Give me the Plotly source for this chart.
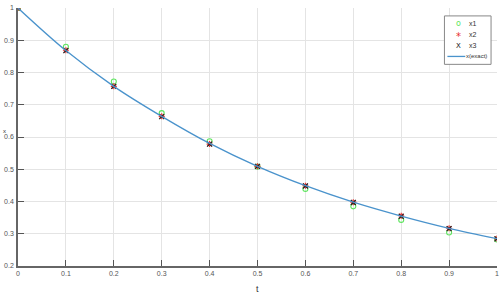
import plotly.graph_objects as go

t = [0, 0.1, 0.2, 0.3, 0.4, 0.5, 0.6, 0.7, 0.8, 0.9, 1.0]
x1 = [1.0, 0.880, 0.772, 0.674, 0.587, 0.508, 0.439, 0.385, 0.343, 0.304, 0.282]
x2 = [1.0, 0.869, 0.757, 0.664, 0.578, 0.509, 0.449, 0.398, 0.356, 0.317, 0.285]
x3 = [1.0, 0.868, 0.757, 0.663, 0.578, 0.509, 0.448, 0.397, 0.354, 0.316, 0.284]
x_exact = [1.0, 0.868, 0.757, 0.664, 0.580, 0.509, 0.449, 0.398, 0.355, 0.317, 0.285]

series_names = ["x1", "x2", "x3", "x(exact)"]
series_colors = ["#5ee65e", "#e83030", "#222222", "#4a93cc"]

xticks = [0, 0.1, 0.2, 0.3, 0.4, 0.5, 0.6, 0.7, 0.8, 0.9, 1]
xtick_labels = ["0", "0.1", "0.2", "0.3", "0.4", "0.5", "0.6", "0.7", "0.8", "0.9", "1"]
yticks = [0.2, 0.3, 0.4, 0.5, 0.6, 0.7, 0.8, 0.9, 1]
ytick_labels = ["0.2", "0.3", "0.4", "0.5", "0.6", "0.7", "0.8", "0.9", "1"]

FONT = "Liberation Sans Narrow, Arial Narrow, Liberation Sans, sans-serif"

W, H = 503, 294
ML, MR, MT, MB = 16, 4, 5, 28
PW, PH = W - ML - MR, H - MT - MB


def px(xp):
    return (xp - ML) / PW


def py(yp):
    return (H - MB - yp) / PH


fig = go.Figure()
fig.add_trace(go.Scatter(x=t, y=x1, mode="markers", name=series_names[0],
                         marker=dict(symbol="circle-open", size=5, color=series_colors[0],
                                     line=dict(width=1.1, color=series_colors[0]))))
fig.add_trace(go.Scatter(x=t, y=x2, mode="markers", name=series_names[1],
                         marker=dict(symbol="asterisk-open", size=5, color=series_colors[1],
                                     line=dict(width=1.1, color=series_colors[1]))))
fig.add_trace(go.Scatter(x=t, y=x3, mode="markers", name=series_names[2],
                         marker=dict(symbol="x-thin-open", size=5, color=series_colors[2],
                                     line=dict(width=1.2, color=series_colors[2]))))
fig.add_trace(go.Scatter(x=t, y=x_exact, mode="lines", name=series_names[3],
                         line=dict(color=series_colors[3], width=1.3, shape="spline")))

axis_common = dict(
    showgrid=True, gridcolor="#e4e4e4", gridwidth=1,
    showline=True, linecolor="#666666", linewidth=1.5,
    ticks="inside", ticklen=6, tickcolor="#555555", tickwidth=1,
    tickfont=dict(family=FONT, size=7, color="#555555"),
    zeroline=False, mirror=False,
)

fig.update_xaxes(range=[0, 1], tickvals=xticks, ticktext=xtick_labels, **axis_common)
fig.update_yaxes(range=[0.2, 1], tickvals=yticks, ticktext=ytick_labels,
                 ticklabelstandoff=1, **axis_common)

fig.add_annotation(text="t", xref="paper", yref="paper", x=px(257), y=py(289),
                   showarrow=False, font=dict(family=FONT, size=9, color="#333333"),
                   xanchor="center", yanchor="middle")
fig.add_annotation(text="x", xref="paper", yref="paper", x=px(0), y=py(129),
                   showarrow=False, font=dict(family=FONT, size=6, color="#333333"),
                   xanchor="left", yanchor="middle", borderpad=0)

# custom compact legend
fig.add_shape(type="rect", xref="paper", yref="paper",
              x0=px(446), x1=px(493), y0=py(62), y1=py(13),
              line=dict(color="#888888", width=1), fillcolor="white", layer="above")
row_y = [21, 32, 43, 54]
glyphs = ["o", "*", "X"]
glyph_sizes = [8, 10, 7]
for i in range(3):
    fig.add_annotation(text=glyphs[i], xref="paper", yref="paper",
                       x=px(460), y=py(row_y[i] + (2 if i == 1 else 0)),
                       showarrow=False, xanchor="center", yanchor="middle",
                       font=dict(family="DejaVu Sans", size=glyph_sizes[i], color=series_colors[i]))
fig.add_shape(type="line", xref="paper", yref="paper",
              x0=px(449), x1=px(467), y0=py(row_y[3]), y1=py(row_y[3]),
              line=dict(color=series_colors[3], width=1.3), layer="above")
for i in range(4):
    fig.add_annotation(text=series_names[i], xref="paper", yref="paper",
                       x=px(467 if i == 3 else 470), y=py(row_y[i]),
                       showarrow=False, xanchor="left", yanchor="middle", borderpad=0,
                       font=dict(family=FONT, size=6 if i == 3 else 7, color="#333333"))

fig.update_layout(
    width=W, height=H,
    margin=dict(l=ML, r=MR, t=MT, b=MB),
    plot_bgcolor="white", paper_bgcolor="white",
    showlegend=False,
)

fig.write_html("out.html")
